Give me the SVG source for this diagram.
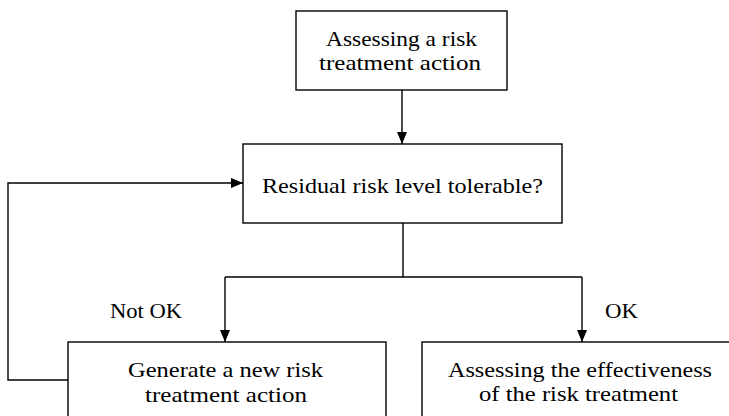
<svg xmlns="http://www.w3.org/2000/svg" width="729" height="416" viewBox="0 0 729 416">
  <style>
    .box { fill: #ffffff; stroke: #000000; stroke-width: 1.4; }
    .link { fill: none; stroke: #000000; stroke-width: 1.4; }
    .label { font-family: "Liberation Serif", "DejaVu Serif", serif; font-size: 21px; fill: #000000; }
  </style>
  <defs>
    <marker id="arrow" viewBox="0 0 12 12" refX="12" refY="6" markerWidth="12" markerHeight="12" markerUnits="userSpaceOnUse" orient="auto">
      <path d="M0,1 L12,6 L0,11 Z" fill="#000000"/>
    </marker>
  </defs>

  <rect width="729" height="416" fill="#ffffff"/>

  <g id="connectors">
    <path class="link" d="M402,90 L402,144" marker-end="url(#arrow)"/>
    <path class="link" d="M403,223 L403,277"/>
    <path class="link" d="M225,277 L582,277"/>
    <path class="link" d="M225,277 L225,342" marker-end="url(#arrow)"/>
    <path class="link" d="M582,277 L582,342" marker-end="url(#arrow)"/>
    <path class="link" d="M68,380 L8,380 L8,183 L243,183" marker-end="url(#arrow)"/>
    <text class="label" x="110" y="318" textLength="72" lengthAdjust="spacingAndGlyphs">Not OK</text>
    <text class="label" x="605" y="318" textLength="33" lengthAdjust="spacingAndGlyphs">OK</text>
  </g>

  <g id="assess-action">
    <rect class="box" x="296" y="11" width="211" height="79"/>
    <text class="label" x="326" y="46" textLength="151" lengthAdjust="spacingAndGlyphs">Assessing a risk</text>
    <text class="label" x="319" y="70" textLength="162" lengthAdjust="spacingAndGlyphs">treatment action</text>
  </g>

  <g id="residual-check">
    <rect class="box" x="243" y="144" width="319" height="79"/>
    <text class="label" x="262" y="193" textLength="281" lengthAdjust="spacingAndGlyphs">Residual risk level tolerable?</text>
  </g>

  <g id="generate-action">
    <rect class="box" x="68" y="342" width="318" height="90"/>
    <text class="label" x="128" y="377" textLength="195" lengthAdjust="spacingAndGlyphs">Generate a new risk</text>
    <text class="label" x="145" y="402" textLength="162" lengthAdjust="spacingAndGlyphs">treatment action</text>
  </g>

  <g id="assess-effectiveness">
    <rect class="box" x="422" y="342" width="320" height="90"/>
    <text class="label" x="448" y="377" textLength="264" lengthAdjust="spacingAndGlyphs">Assessing the effectiveness</text>
    <text class="label" x="479" y="401" textLength="199" lengthAdjust="spacingAndGlyphs">of the risk treatment</text>
  </g>
</svg>
